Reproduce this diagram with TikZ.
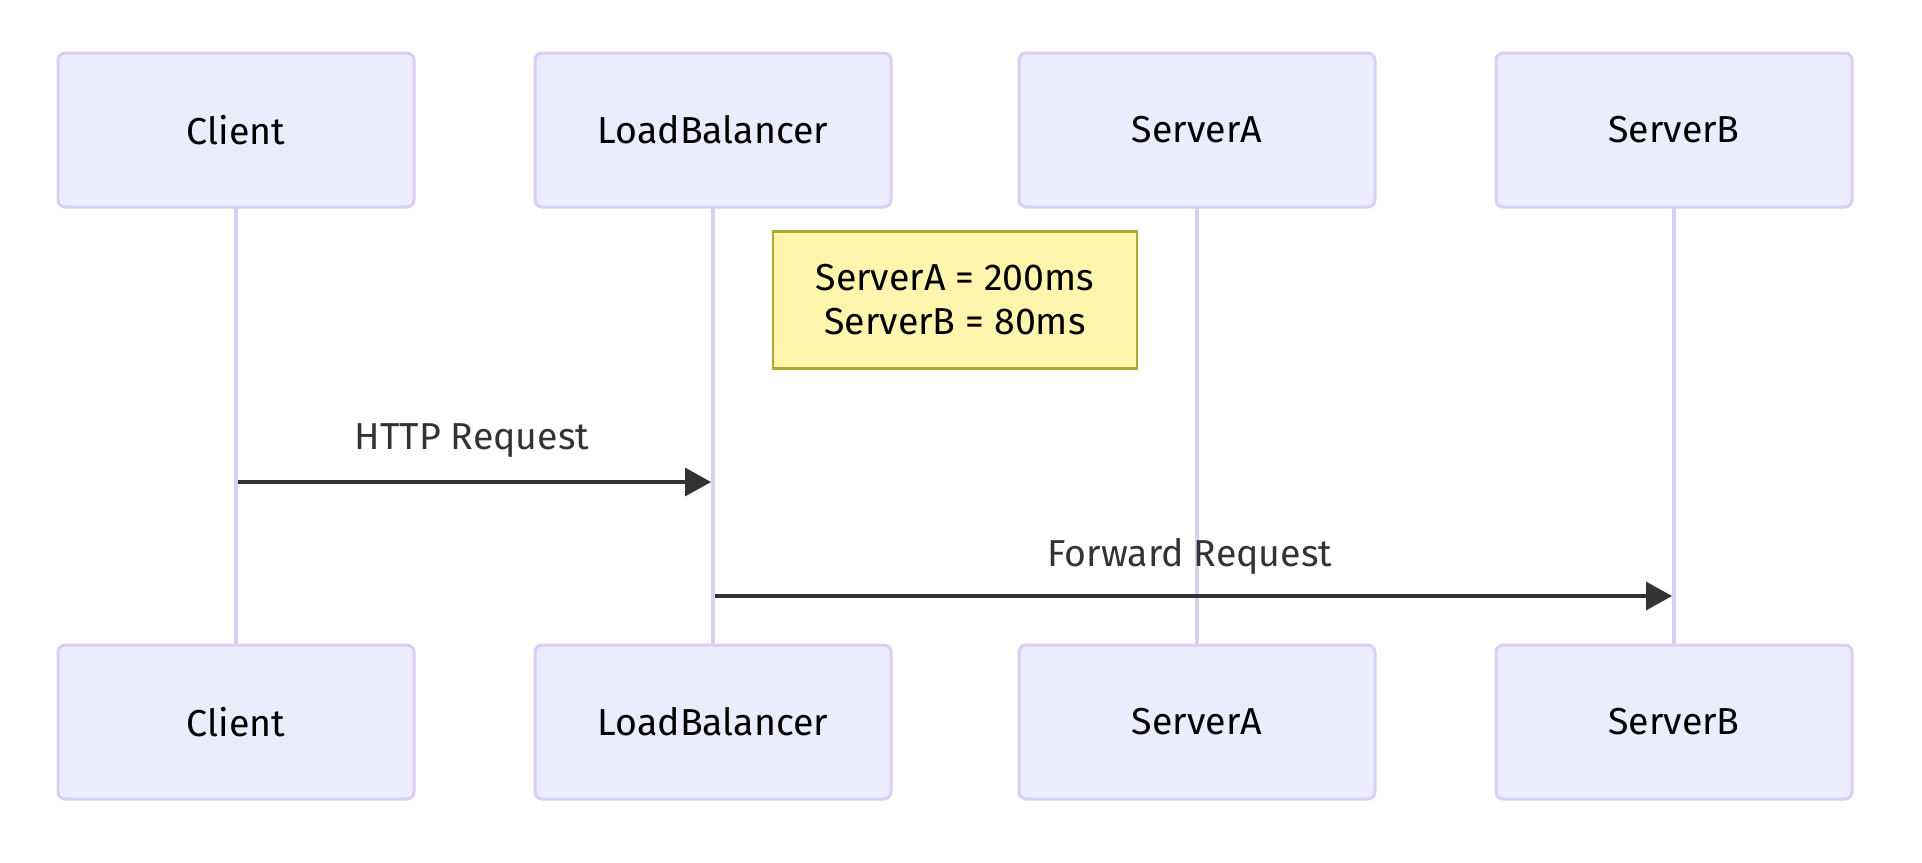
\documentclass[tikz,border=0pt]{standalone}
\usepackage{fontspec}
\setmainfont{Fira Sans}
\usetikzlibrary{arrows.meta}
\definecolor{actfill}{HTML}{ECECFF}
\definecolor{actline}{HTML}{DACEF3}
\definecolor{notefill}{HTML}{FFF5AD}
\definecolor{noteline}{HTML}{AAAA33}
\definecolor{msg}{HTML}{333333}
\tikzset{
  actor/.style={draw=actline, fill=actfill, line width=3pt, rounded corners=7pt,
    minimum width=356pt, minimum height=154pt, inner sep=0pt,
    font=\fontsize{37.5}{44}\selectfont, text=black},
  life/.style={draw=actline, line width=4.5pt},
  note/.style={draw=noteline, fill=notefill, line width=2.5pt,
    minimum width=364pt, minimum height=137pt, inner sep=0pt, align=center,
    font=\fontsize{37.5}{44}\selectfont, text=black},
  msgarrow/.style={draw=msg, line width=3.5pt, -{Triangle[length=26pt,width=28pt]}},
  msglabel/.style={font=\fontsize{37.5}{44}\selectfont, text=msg, inner sep=0pt}
}
\begin{document}
\begin{tikzpicture}[x=1pt,y=-1pt]
\useasboundingbox (0,0) rectangle (1922,862);
% lifelines
\coordinate (c1) at (236,207);
\coordinate (c2) at (236,645);
\coordinate (l1) at (713,207);
\coordinate (l2) at (713,645);
\coordinate (a1) at (1197,207);
\coordinate (a2) at (1197,645);
\coordinate (b1) at (1674,207);
\coordinate (b2) at (1674,645);
\draw[life] (c1) -- (c2);
\draw[life] (l1) -- (l2);
\draw[life] (a1) -- (a2);
\draw[life] (b1) -- (b2);
% actors
\node[actor] (ct) at (236,130) {Client};
\node[actor] (lt) at (713,130) {LoadBalancer};
\node[actor] (at) at (1197,130) {ServerA};
\node[actor] (bt) at (1674,130) {ServerB};
\node[actor] (cb) at (236,722) {Client};
\node[actor] (lb) at (713,722) {LoadBalancer};
\node[actor] (ab) at (1197,722) {ServerA};
\node[actor] (bb) at (1674,722) {ServerB};
% note
\node[note] (n) at (955,300) {ServerA = 200ms\\ServerB = 80ms};
% messages
\coordinate (m1s) at (238,482);
\coordinate (m1e) at (711,482);
\coordinate (m2s) at (715,596);
\coordinate (m2e) at (1672,596);
\draw[msgarrow] (m1s) -- (m1e);
\draw[msgarrow] (m2s) -- (m2e);
\node[msglabel] (t1) at (472,441) {HTTP Request};
\node[msglabel] (t2) at (1190,556) {Forward Request};
\end{tikzpicture}
\end{document}
